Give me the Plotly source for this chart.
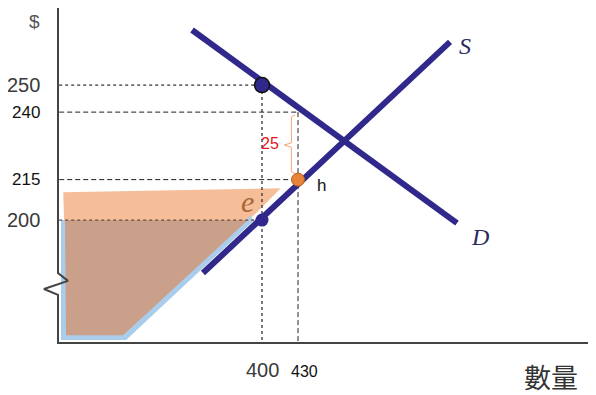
import plotly.graph_objects as go

# values (quantity on x, price on y)
qty_ticks = [400, 430]
price_ticks = [250, 240, 215, 200]
price_labels = ["250", "240", "215", "200"]

demand_q = [341.7, 562.5]
demand_p = [270.4, 198.9]
supply_q = [350.8, 556.7]
supply_p = [180.4, 266.0]

# shaded areas
orange_q = [234.4, 415.6, 389.2, 235.0]
orange_p = [210.3, 211.8, 200.0, 200.0]
brown_q = [235.8, 388.3, 284.2, 236.7]
brown_p = [200.0, 200.0, 157.4, 157.4]
edge_q = [235.0, 235.0, 285.8, 391.7]
edge_p = [200.0, 156.7, 156.7, 200.8]

# axes, with the break mark on the price axis
Q0, P0 = 230, 154.5
axis_q = [Q0, Q0, 238.3, 218.3, Q0, Q0, 678.3]
axis_p = [278.6, 180.4, 177.5, 174.5, 172.3, P0, P0]

NAVY = "#30288a"

fig = go.Figure()


def add_line(q, p, color, width, dash="solid", fill=None, fillcolor=None):
    fig.add_trace(go.Scatter(
        x=q, y=p, mode="lines", fill=fill, fillcolor=fillcolor,
        line=dict(color=color, width=width, dash=dash),
        hoverinfo="skip", showlegend=False))


# shaded areas
add_line(orange_q + orange_q[:1], orange_p + orange_p[:1], "rgba(0,0,0,0)", 0,
         fill="toself", fillcolor="#f5be98")
add_line(edge_q, edge_p, "#aacdeb", 6)
add_line(brown_q + brown_q[:1], brown_p + brown_p[:1], "rgba(0,0,0,0)", 0,
         fill="toself", fillcolor="#cba08a")

# guide lines
dotted = "3px,3px"
dashed = "5px,3px"
add_line([Q0 + 1, qty_ticks[0]], [250, 250], "#333", 1.3, dotted)
add_line([qty_ticks[0], qty_ticks[0]], [250, P0], "#333", 1.3, dotted)
add_line([Q0 + 1, qty_ticks[0]], [200, 200], "#6b4a3a", 1.3, dotted)
add_line([Q0 + 1, qty_ticks[1]], [240, 240], "#222", 1, dashed)
add_line([Q0 + 1, qty_ticks[1]], [215, 215], "#222", 1, dashed)
add_line([qty_ticks[1], qty_ticks[1]], [240, P0], "#222", 1, dashed)

# bracket for the 25 gap
add_line([427.5, 424.5, 424.5, 418.5, 424.5, 424.5, 427.5],
         [239, 238.2, 228.6, 227.8, 227, 218, 217.2], "#f3a778", 1)

# axes
add_line(axis_q, axis_p, "#444", 2)

# demand and supply
add_line(demand_q, demand_p, NAVY, 6)
add_line(supply_q, supply_p, NAVY, 6)

# points
fig.add_trace(go.Scatter(
    x=[400, 400, 430], y=[250, 200, 215], mode="markers",
    marker=dict(size=[15, 13, 13], color=[NAVY, NAVY, "#e8833a"], opacity=1,
                line=dict(color=["#111", NAVY, "#b8601f"], width=[1.5, 0, 1])),
    hoverinfo="skip", showlegend=False))

ann = []
for p, lab in zip(price_ticks, price_labels):
    big = lab in ("250", "200")
    ann.append(dict(x=Q0 - 13.5, y=p, text=lab, xanchor="right",
                    font=dict(size=20 if big else 17, color="#3a3a3a" if big else "#111",
                              family="Liberation Sans")))
ann.append(dict(x=qty_ticks[0], y=144.5, text="400",
                font=dict(size=20, color="#3a3a3a", family="Liberation Sans")))
ann.append(dict(x=qty_ticks[1], y=144.0, text="430", xshift=6,
                font=dict(size=16, color="#111", family="Liberation Sans")))
ann.append(dict(x=210.8, y=273.4, text="$",
                font=dict(size=19, color="#555", family="Liberation Sans")))
ann.append(dict(x=640.8, y=142.2, text="數量",
                font=dict(size=27, color="#333", family="Noto Sans CJK TC")))
ann.append(dict(x=569.2, y=264.5, text="<i>S</i>",
                font=dict(size=24, color="#2a2a60", family="Liberation Serif")))
ann.append(dict(x=581.7, y=193.8, text="<i>D</i>",
                font=dict(size=24, color="#2a2a60", family="Liberation Serif")))
ann.append(dict(x=388.3, y=207.0, text="<i>e</i>",
                font=dict(size=30, color="#a8683a", family="Liberation Serif")))
ann.append(dict(x=449.2, y=213.0, text="h",
                font=dict(size=17, color="#111", family="Liberation Sans")))
ann.append(dict(x=407.0, y=228.5, text="25",
                font=dict(size=16, color="#e8141c", family="Liberation Sans")))
for a in ann:
    a.update(showarrow=False, xref="x", yref="y")

# the page body keeps an 8px margin, so the figure covers the rest of the window
fig.update_layout(
    width=588, height=387,
    margin=dict(l=0, r=0, t=0, b=0),
    paper_bgcolor="white", plot_bgcolor="white",
    xaxis=dict(visible=False, range=[188.33, 678.33]),
    yaxis=dict(visible=False, range=[135.23, 278.56]),
    annotations=ann,
)

fig.write_html("out.html")
